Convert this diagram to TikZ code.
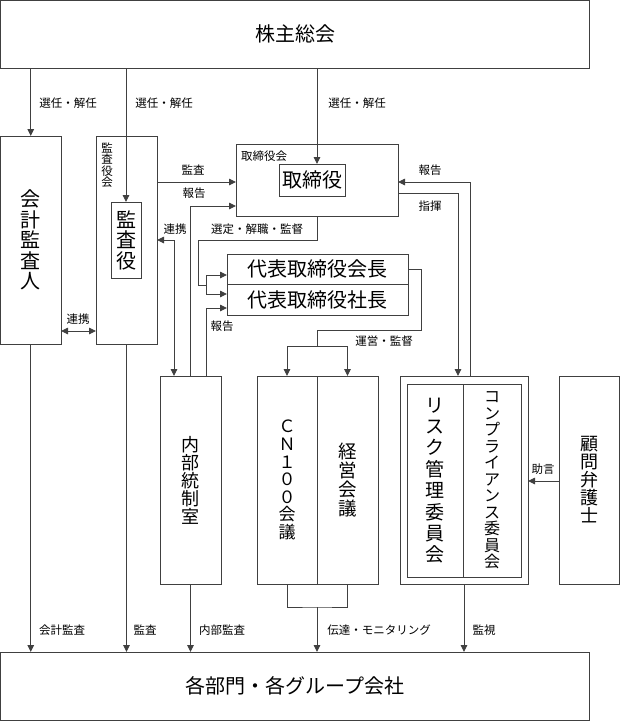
\documentclass[tikz,border=0pt]{standalone}
\usepackage{fontspec}
\setmainfont{Noto Sans CJK JP}
\usetikzlibrary{arrows.meta}

\begin{document}
\begin{tikzpicture}[x=1pt,y=-1pt,line width=0.9pt,
    box/.style={draw=black!75,inner sep=0pt,outer sep=0pt,align=center,
      font=\fontsize{20}{20.5}\selectfont},
    lbl/.style={inner sep=0pt,font=\fontsize{11.5}{11.5}\selectfont},
    wire/.style={black!75},
    arr/.style={black!75,-{Triangle[length=7pt,width=6.5pt]}},
    arrs/.style={black!75,{Triangle[length=7pt,width=6.5pt]}-{Triangle[length=7pt,width=6.5pt]}}]
  \useasboundingbox (0,0) rectangle (620,721);
  % boxes
  \node[box,minimum width=589pt,minimum height=67.5pt] (kabu) at (295,34.25) {株主総会};
  \node[box,minimum width=60.5pt,minimum height=208pt] (kaikei) at (30.75,240) {会\\計\\監\\査\\人};
  \node[box,minimum width=61pt,minimum height=208pt] (kansakai) at (126.5,240) {};
  \node[box,minimum width=30pt,minimum height=76pt] (kansa) at (126,240) {監\\査\\役};
  \node[box,minimum width=162pt,minimum height=72pt] (torikai) at (317,180) {};
  \node[box,minimum width=66pt,minimum height=32pt] (tori) at (312,180) {取締役};
  \node[box,minimum width=181pt,minimum height=30.5pt] (kaicho) at (317.5,269.25) {代表取締役会長};
  \node[box,minimum width=181pt,minimum height=30.5pt] (shacho) at (317.5,299.75) {代表取締役社長};
  \node[box,minimum width=61pt,minimum height=208pt,font=\fontsize{18}{18}\selectfont] (naibu) at (190.5,480) {内\\部\\統\\制\\室};
  \node[box,minimum width=60pt,minimum height=208pt,font=\fontsize{17}{17.6}\selectfont] (cn) at (287,480) {Ｃ\\Ｎ\\１\\０\\０\\会\\議};
  \node[box,minimum width=61pt,minimum height=208pt,font=\fontsize{18.5}{19}\selectfont] (keiei) at (347.5,480) {経\\営\\会\\議};
  \node[box,minimum width=128pt,minimum height=208pt] (riskout) at (464,480) {};
  \node[box,minimum width=56pt,minimum height=193pt,font=\fontsize{19}{21.4}\selectfont] (risk) at (435,480.5) {リ\\ス\\ク\\管\\理\\委\\員\\会};
  \node[box,minimum width=58pt,minimum height=193pt,font=\fontsize{16}{16.5}\selectfont] (comp) at (492,480.5) {コ\\ン\\プ\\ラ\\イ\\ア\\ン\\ス\\委\\員\\会};
  \node[box,minimum width=60pt,minimum height=208pt,font=\fontsize{18}{18}\selectfont] (komon) at (589,480) {顧\\問\\弁\\護\\士};
  \node[box,minimum width=589pt,minimum height=68.5pt] (bottom) at (295,686.25) {各部門・各グループ会社};
  \node[lbl,align=center] (kansakainame) at (107,165) {監\\査\\役\\会};
  \node[lbl] (torikainame) at (264,156) {取締役会};
  % connectors
  \draw[arr] (kaikei.north |- kabu.south) -- (kaikei.north);
  \draw[arr] (kansa.north |- kabu.south) -- (kansa.north);
  \draw[arr] (torikai.north |- kabu.south) -- (tori.north -| torikai.north);
  \draw[arrs] (kaikei.east |- 0,331) -- (kansakai.west |- 0,331);
  \draw[arr] (kansakai.east |- 0,182) -- (torikai.west |- 0,182);
  \draw[arr] (naibu.north) |- (torikai.west |- 0,206);
  \draw[arrs] (kansakai.east) -| (naibu.north -| 174,0);
  \coordinate (sel) at (206,285);
  \draw[wire] (torikai.south) |- (198,240) |- (sel);
  \draw[arr] (sel) |- (kaicho.west |- 0,275);
  \draw[arr] (sel) |- (shacho.west |- 0,294);
  \draw[arr] (naibu.north -| 206,0) |- (shacho.west |- 0,308);
  \coordinate (unei) at (317,346);
  \draw[wire] (kaicho.east) -- ++(13,0) |- (317,330) -- (unei);
  \draw[arr] (unei) -| (cn.north);
  \draw[arr] (unei) -| (keiei.north);
  \draw[arr] (torikai.east |- 0,193) -| (riskout.north -| 458,0);
  \draw[arr] (riskout.north -| 470,0) |- (torikai.east |- 0,182);
  \draw[arr] (komon.west |- 0,481) -- (riskout.east |- 0,481);
  \draw[arr] (kaikei.south) -- (kaikei.south |- bottom.north);
  \draw[arr] (kansakai.south) -- (kansakai.south |- bottom.north);
  \draw[arr] (naibu.south) -- (naibu.south |- bottom.north);
  \coordinate (dentatsu) at (317,607);
  \draw[wire] (cn.south) |- (dentatsu) -| (keiei.south);
  \draw[arr] (dentatsu) -- (dentatsu |- bottom.north);
  \draw[arr] (riskout.south) -- (riskout.south |- bottom.north);
  % labels
  \node[lbl] (sennin1) at (68,103) {選任・解任};
  \node[lbl] (sennin2) at (164,103) {選任・解任};
  \node[lbl] (sennin3) at (357,103) {選任・解任};
  \node[lbl] (kansa1) at (193,170) {監査};
  \node[lbl] (hokoku1) at (194,193) {報告};
  \node[lbl] (renkei1) at (175,229) {連携};
  \node[lbl] (sentei) at (257,229) {選定・解職・監督};
  \node[lbl] (hokoku2) at (222,326) {報告};
  \node[lbl] (unei1) at (384,341) {運営・監督};
  \node[lbl] (hokoku3) at (430,170) {報告};
  \node[lbl] (shiki) at (430,206) {指揮};
  \node[lbl] (jogen) at (543,469) {助言};
  \node[lbl] (renkei2) at (78,319) {連携};
  \node[lbl] (kaikeikansa) at (62,630) {会計監査};
  \node[lbl] (kansa2) at (145,630) {監査};
  \node[lbl] (naibukansa) at (222,630) {内部監査};
  \node[lbl] (dentatsu1) at (379,630) {伝達・モニタリング};
  \node[lbl] (kanshi) at (484,630) {監視};
\end{tikzpicture}
\end{document}
